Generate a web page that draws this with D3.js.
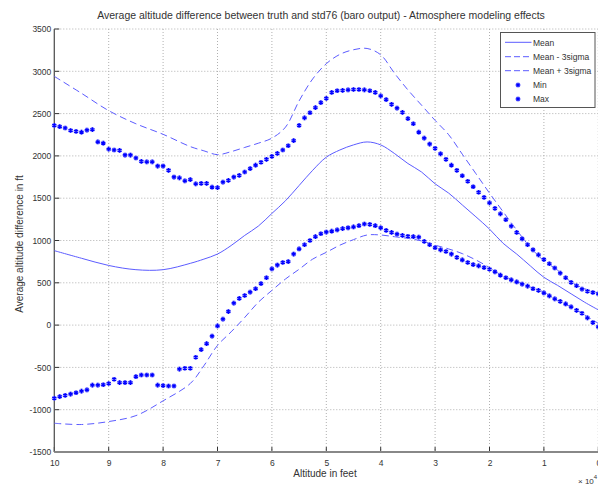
<html>
<head><meta charset="utf-8"></head>
<script src='https://d3js.org/d3.v7.min.js'></script>
<style>
  body { margin: 0; background: #fff; }
  .chart text { font-family: 'Liberation Sans', Arial, sans-serif; fill: #333; }
  .tick text { font-size: 8.5px; }
  .grid line { stroke: #b0b0b0; stroke-dasharray: 1,2; }
</style>
<body>
<svg class="chart" width=598 height=485></svg>
<script>
var plotLeft = 54.3, plotTop = 29, plotRight = 598.3, plotBottom = 452;

// x ticks (x 10^4 ft) and y ticks (ft)
var xTicks = [10, 9, 8, 7, 6, 5, 4, 3, 2, 1, 0];
var yTicks = [-1500, -1000, -500, 0, 500, 1000, 1500, 2000, 2500, 3000, 3500];

// smooth curves
var lineAlt = [10, 9.5, 9, 8.5, 8, 7.5, 7.25, 7, 6.75, 6.5, 6.25, 6, 5.75, 5.5, 5.25, 5, 4.75, 4.5, 4.25, 4,
  3.75, 3.5, 3.25, 3, 2.75, 2.5, 2.25, 2, 1.75, 1.5, 1.25, 1, 0.75, 0.5, 0.25, 0];
var meanVals = [880, 790, 705, 655, 655, 730, 780, 840, 940, 1060, 1170, 1320, 1470, 1650, 1830, 1985, 2070, 2130, 2165, 2130,
  2030, 1910, 1810, 1670, 1560, 1420, 1280, 1135, 967, 840, 700, 565, 470, 370, 270, 180];
var meanMinus3s = [-1160, -1175, -1140, -1070, -895, -690, -480, -240, -80, 90, 270, 410, 545, 660, 780, 860, 945, 1010, 1065, 1065,
  1045, 1025, 995, 945, 900, 845, 770, 680, 580, 520, 450, 390, 290, 215, 120, 20];
var meanPlus3s = [2940, 2740, 2535, 2380, 2255, 2110, 2060, 2015, 2050, 2100, 2150, 2210, 2340, 2650, 2910, 3090, 3200, 3255, 3270, 3195,
  2980, 2780, 2600, 2420, 2250, 2020, 1790, 1560, 1340, 1124, 920, 760, 650, 510, 430, 380];

// marker series
var markAlt = [10, 9.9, 9.8, 9.7, 9.6, 9.5, 9.4, 9.3, 9.2, 9.1, 9, 8.9, 8.8, 8.7, 8.6, 8.5, 8.4, 8.3, 8.2, 8.1,
  8, 7.9, 7.8, 7.7, 7.6, 7.5, 7.4, 7.3, 7.2, 7.1, 7, 6.9, 6.8, 6.7, 6.6, 6.5, 6.4, 6.3, 6.2, 6.1,
  6, 5.9, 5.8, 5.7, 5.6, 5.5, 5.4, 5.3, 5.2, 5.1, 5, 4.9, 4.8, 4.7, 4.6, 4.5, 4.4, 4.3, 4.2, 4.1,
  4, 3.9, 3.8, 3.7, 3.6, 3.5, 3.4, 3.3, 3.2, 3.1, 3, 2.9, 2.8, 2.7, 2.6, 2.5, 2.4, 2.3, 2.2, 2.1,
  2, 1.9, 1.8, 1.7, 1.6, 1.5, 1.4, 1.3, 1.2, 1.1, 1, 0.9, 0.8, 0.7, 0.6, 0.5, 0.4, 0.3, 0.2, 0.1, 0];
var minVals = [-865, -845, -830, -815, -800, -780, -765, -710, -710, -705, -690, -640, -680, -680, -680, -610, -590, -590, -590, -710,
  -715, -720, -720, -520, -510, -510, -380, -290, -220, -130, -10, 70, 160, 260, 315, 350, 390, 430, 490, 560,
  665, 710, 740, 750, 840, 900, 950, 1000, 1045, 1080, 1100, 1110, 1125, 1140, 1150, 1160, 1175, 1195, 1190, 1175,
  1150, 1120, 1095, 1075, 1060, 1050, 1045, 1040, 990, 950, 915, 890, 870, 840, 800, 770, 740, 715, 700, 680,
  660, 630, 590, 560, 535, 510, 485, 460, 430, 410, 380, 345, 310, 280, 250, 215, 175, 140, 85, 30, -20];
var maxVals = [2360, 2345, 2330, 2300, 2290, 2280, 2305, 2310, 2165, 2150, 2080, 2070, 2065, 2010, 2010, 1975, 1935, 1930, 1930, 1880,
  1880, 1830, 1750, 1740, 1705, 1720, 1670, 1675, 1675, 1630, 1625, 1690, 1710, 1750, 1770, 1810, 1850, 1890, 1925, 1960,
  1995, 2030, 2070, 2120, 2180, 2360, 2450, 2510, 2570, 2630, 2680, 2750, 2770, 2775, 2780, 2785, 2785, 2780, 2770, 2750,
  2710, 2665, 2610, 2565, 2515, 2440, 2380, 2280, 2210, 2140, 2090, 2025, 1960, 1890, 1830, 1765, 1700, 1635, 1570, 1510,
  1445, 1380, 1315, 1245, 1170, 1095, 1020, 950, 890, 830, 775, 725, 675, 615, 560, 505, 465, 425, 400, 385, 370];

var legendNames = ["Mean", "Mean - 3sigma", "Mean + 3sigma", "Min", "Max"];

var svg = d3.select("svg");
var xScale = d3.scaleLinear().domain([10, 0]).range([plotLeft, plotRight]);
var yScale = d3.scaleLinear().domain([-1500, 3500]).range([plotBottom, plotTop]);

// grid
var grid = svg.append("g").attr("class", "grid");
grid.selectAll(".gx").data(xTicks.slice(1)).enter().append("line")
  .attr("x1", d => xScale(d)).attr("x2", d => xScale(d))
  .attr("y1", plotTop).attr("y2", plotBottom);
grid.selectAll(".gy").data(yTicks.slice(1)).enter().append("line")
  .attr("x1", plotLeft).attr("x2", plotRight)
  .attr("y1", d => yScale(d)).attr("y2", d => yScale(d));

// axes
var xAxis = d3.axisBottom(xScale).tickValues(xTicks).tickSize(0).tickPadding(8).tickFormat(d => String(d));
var yAxis = d3.axisLeft(yScale).tickValues(yTicks).tickSize(0).tickPadding(3).tickFormat(d => String(d));
svg.append("g").attr("transform", "translate(0," + plotBottom + ")").call(xAxis).call(g => g.select(".domain").remove());
svg.append("g").attr("transform", "translate(" + plotLeft + ",0)").call(yAxis).call(g => g.select(".domain").remove());
// inward tick marks
svg.selectAll(".xt").data(xTicks).enter().append("line")
  .attr("x1", d => xScale(d)).attr("x2", d => xScale(d))
  .attr("y1", plotBottom).attr("y2", plotBottom - 5).attr("stroke", "#333");
svg.selectAll(".yt").data(yTicks).enter().append("line")
  .attr("x1", plotLeft).attr("x2", plotLeft + 5)
  .attr("y1", d => yScale(d)).attr("y2", d => yScale(d)).attr("stroke", "#333");
svg.append("line").attr("x1", plotLeft).attr("x2", plotLeft).attr("y1", plotTop).attr("y2", plotBottom)
  .attr("stroke", "#555").attr("stroke-width", 1.3);
svg.append("line").attr("x1", plotLeft).attr("x2", plotRight).attr("y1", plotBottom).attr("y2", plotBottom)
  .attr("stroke", "#888").attr("stroke-width", 2);

// curves
var line = d3.line().x(d => xScale(d[0])).y(d => yScale(d[1])).curve(d3.curveCatmullRom);
function pairs(vals) { return lineAlt.map((a, i) => [a, vals[i]]); }
var lineColor = "#5c5cff";
svg.append("path").datum(pairs(meanVals)).attr("d", line)
  .attr("fill", "none").attr("stroke", lineColor).attr("stroke-width", 1);
svg.append("path").datum(pairs(meanMinus3s)).attr("d", line)
  .attr("fill", "none").attr("stroke", lineColor).attr("stroke-width", 1).attr("stroke-dasharray", "7,4");
svg.append("path").datum(pairs(meanPlus3s)).attr("d", line)
  .attr("fill", "none").attr("stroke", lineColor).attr("stroke-width", 1).attr("stroke-dasharray", "7,4");

// star markers
var star = d3.symbol().type(d3.symbolAsterisk).size(15);
function drawMarkers(vals) {
  var g = svg.append("g");
  g.selectAll(".halo").data(vals).enter().append("path")
    .attr("d", star)
    .attr("transform", (d, i) => "translate(" + xScale(markAlt[i]) + "," + yScale(d) + ")")
    .attr("fill", "none").attr("stroke", "#a4a4ff").attr("stroke-width", 3.2);
  g.selectAll(".mk").data(vals).enter().append("path")
    .attr("d", star)
    .attr("transform", (d, i) => "translate(" + xScale(markAlt[i]) + "," + yScale(d) + ")")
    .attr("fill", "none").attr("stroke", "#0000ff").attr("stroke-width", 1.2);
}
drawMarkers(minVals);
drawMarkers(maxVals);

// legend
var lg = svg.append("g");
lg.append("rect").attr("x", 500.5).attr("y", 32.5).attr("width", 94.5).attr("height", 75)
  .attr("fill", "#fff").attr("stroke", "#555").attr("stroke-width", 1);
var rowY = [42.3, 56.7, 70.7, 85, 99];
legendNames.forEach(function(name, i) {
  if (i < 3) {
    lg.append("line").attr("x1", 505).attr("x2", 531.5).attr("y1", rowY[i]).attr("y2", rowY[i])
      .attr("stroke", lineColor).attr("stroke-width", 1)
      .attr("stroke-dasharray", i == 0 ? null : "6,3");
  } else {
    lg.append("path").attr("d", star).attr("transform", "translate(518," + rowY[i] + ")")
      .attr("fill", "none").attr("stroke", "#a4a4ff").attr("stroke-width", 3.2);
    lg.append("path").attr("d", star).attr("transform", "translate(518," + rowY[i] + ")")
      .attr("fill", "none").attr("stroke", "#0000ff").attr("stroke-width", 1.2);
  }
  lg.append("text").attr("x", 533).attr("y", rowY[i] + 3.2)
    .style("font-size", "8.5px").text(name);
});

// titles
svg.append("text").attr("x", 321).attr("y", 19)
  .style("font-size", "10.5px").style("text-anchor", "middle")
  .text("Average altitude difference between truth and std76 (baro output) - Atmosphere modeling effects");
svg.append("text").attr("x", 325).attr("y", 477)
  .style("font-size", "10px").style("text-anchor", "middle")
  .text("Altitude in feet");
svg.append("text").attr("transform", "translate(23,244) rotate(-90)")
  .style("font-size", "10px").style("text-anchor", "middle")
  .text("Average altitude difference in ft");
var exp = svg.append("text").attr("x", 578).attr("y", 484).style("font-size", "8px");
exp.append("tspan").text("\u00d7 10");
exp.append("tspan").attr("dy", -5).style("font-size", "6px").text("4");
</script>
</body>
</html>
